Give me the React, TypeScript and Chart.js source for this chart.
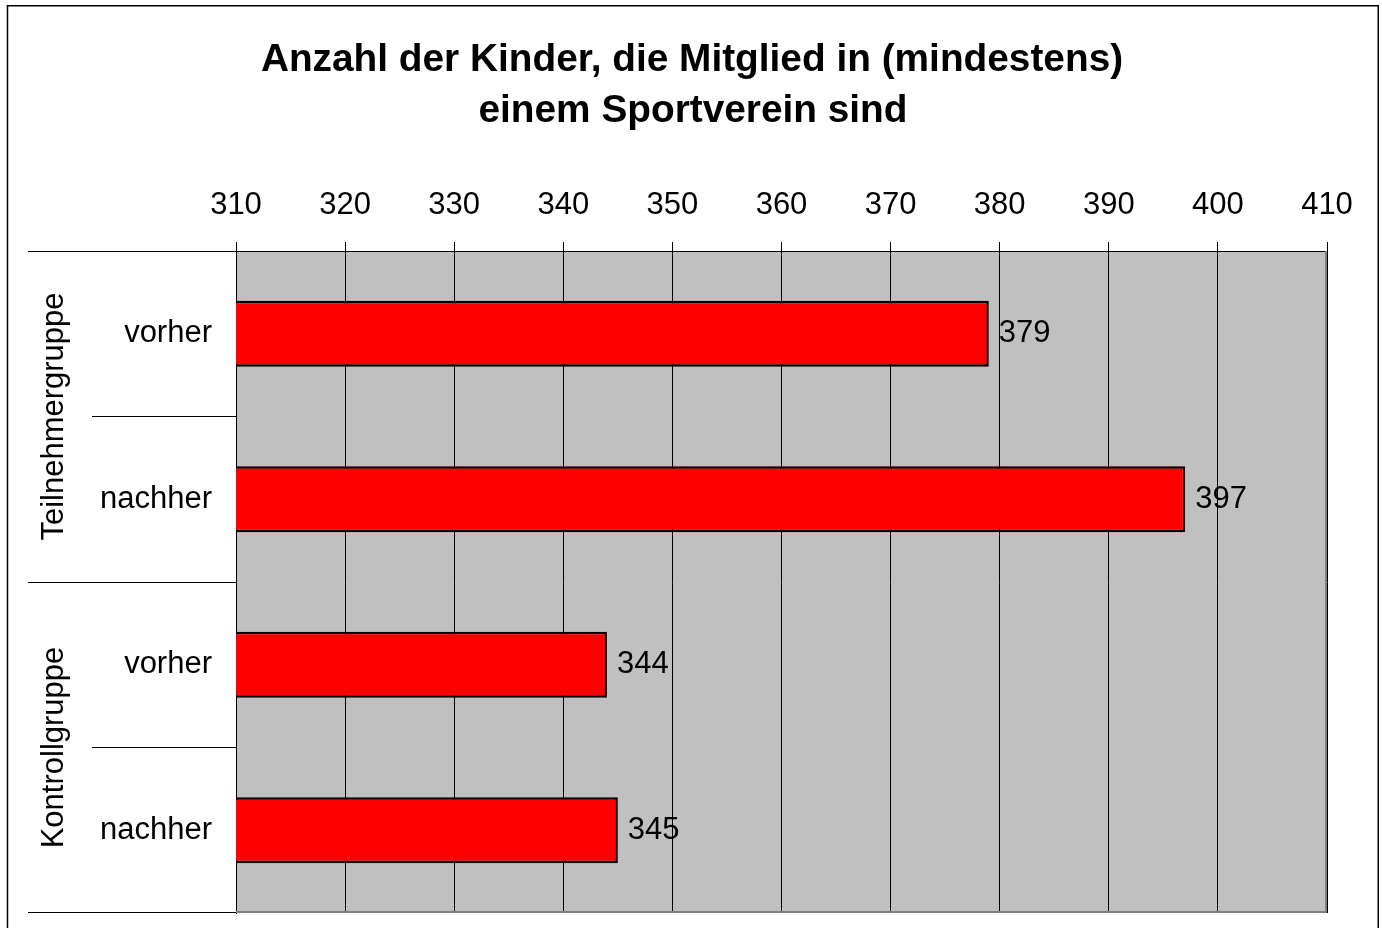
import React, { useEffect, useRef } from 'react';
import { Chart, registerables } from 'chart.js';

Chart.register(...registerables);

// ---- data ----
const titleLines = ['Anzahl der Kinder, die Mitglied in (mindestens)', 'einem Sportverein sind'];
const categories = ['vorher', 'nachher', 'vorher', 'nachher'];
const groupNames = ['Teilnehmergruppe', 'Kontrollgruppe'];
const groupSizes = [2, 2];
const values = [379, 397, 344, 345];
const axisMin = 310;
const axisMax = 410;
const axisStep = 10;

const FONT = '"Liberation Sans", Arial, Helvetica, sans-serif';

const decorPlugin = {
  id: 'decor',
  beforeDraw(chart: any) {
    const { ctx, chartArea: a, width, height } = chart;
    ctx.save();
    ctx.fillStyle = '#FFFFFF';
    ctx.fillRect(0, 0, width, height);
    ctx.fillStyle = '#C0C0C0';
    ctx.fillRect(a.left, a.top, a.right - a.left, a.bottom - a.top);
    ctx.strokeStyle = '#000000';
    ctx.lineWidth = 1.5;
    ctx.strokeRect(7.5, 5.75, 1370.75, height + 20);
    ctx.restore();
  },
  afterDatasetsDraw(chart: any) {
    const { ctx, chartArea: a } = chart;
    ctx.save();
    // grey plot-area border (right + bottom)
    ctx.strokeStyle = '#808080';
    ctx.lineWidth = 2;
    ctx.beginPath();
    ctx.moveTo(a.right - 1, a.top);
    ctx.lineTo(a.right - 1, a.bottom - 1);
    ctx.lineTo(a.left, a.bottom - 1);
    ctx.stroke();
    // value labels
    const meta = chart.getDatasetMeta(0);
    ctx.fillStyle = '#000000';
    ctx.font = `31px ${FONT}`;
    ctx.textBaseline = 'middle';
    ctx.textAlign = 'left';
    meta.data.forEach((bar: any, i: number) => {
      ctx.fillText(String(values[i]), bar.x + 10, bar.y);
    });
    ctx.restore();
  },
  afterDraw(chart: any) {
    const { ctx, chartArea: a, width } = chart;
    const yScale = chart.scales.y;
    ctx.save();
    // title
    ctx.fillStyle = '#000000';
    ctx.font = `bold 38.8px ${FONT}`;
    ctx.textAlign = 'center';
    ctx.textBaseline = 'alphabetic';
    ctx.fillText(titleLines[0], width / 2 + 1, 71);
    ctx.fillText(titleLines[1], width / 2 + 2, 122);

    // category separator lines
    const groupBounds: number[] = [0];
    groupSizes.forEach((s) => groupBounds.push(groupBounds[groupBounds.length - 1] + s));
    ctx.strokeStyle = '#000000';
    ctx.lineWidth = 1;
    for (let k = 0; k <= categories.length; k++) {
      const y = Math.min(Math.floor(yScale.getPixelForValue(k - 0.5)) + 0.5, a.bottom - 0.5);
      const isGroup = groupBounds.includes(k);
      const x0 = isGroup ? 28 : 92;
      ctx.beginPath();
      ctx.moveTo(x0, y);
      ctx.lineTo(a.left, y);
      ctx.stroke();
    }

    // group labels (rotated)
    ctx.font = `31px ${FONT}`;
    ctx.textAlign = 'center';
    ctx.textBaseline = 'middle';
    for (let g = 0; g < groupNames.length; g++) {
      const y0 = yScale.getPixelForValue(groupBounds[g] - 0.5);
      const y1 = yScale.getPixelForValue(groupBounds[g + 1] - 0.5);
      const cy = (y0 + y1) / 2;
      ctx.save();
      ctx.translate(54, cy);
      ctx.rotate(-Math.PI / 2);
      ctx.fillText(groupNames[g], 0, 0);
      ctx.restore();
    }
    ctx.restore();
  },
};

export default function App() {
  const canvasRef = useRef<HTMLCanvasElement | null>(null);

  useEffect(() => {
    const canvas = canvasRef.current;
    if (!canvas) return;
    const chart = new Chart(canvas, {
      type: 'bar',
      data: {
        labels: categories,
        datasets: [
          {
            data: values,
            backgroundColor: '#FF0000',
            borderColor: '#000000',
            borderWidth: 2.5,
            barPercentage: 0.4,
            categoryPercentage: 1.0,
          },
        ],
      },
      options: {
        indexAxis: 'y',
        responsive: false,
        animation: false,
        devicePixelRatio: 1,
        layout: { padding: { left: 0, top: 0, right: 55, bottom: 15 } },
        plugins: {
          legend: { display: false },
          tooltip: { enabled: false },
          title: { display: false },
        },
        scales: {
          x: {
            type: 'linear',
            position: 'top',
            min: axisMin,
            max: axisMax,
            ticks: {
              stepSize: axisStep,
              autoSkip: false,
              maxRotation: 0,
              padding: 18,
              color: '#000000',
              font: { family: FONT, size: 31 },
            },
            grid: {
              color: '#000000',
              lineWidth: 1,
              tickLength: 9,
              tickColor: '#000000',
              drawOnChartArea: true,
            },
            border: { display: true, color: '#000000', width: 1 },
            afterFit: (scale: any) => {
              scale.height = 251;
              scale.paddingLeft = 0;
              scale.paddingRight = 0;
            },
          },
          y: {
            type: 'category',
            position: 'left',
            ticks: {
              padding: 24,
              autoSkip: false,
              color: '#000000',
              font: { family: FONT, size: 31 },
            },
            grid: { display: false, drawTicks: false },
            border: { display: true, color: '#000000', width: 1 },
            afterFit: (scale: any) => {
              scale.width = 236;
              scale.paddingTop = 0;
              scale.paddingBottom = 0;
            },
          },
        },
      },
      plugins: [decorPlugin],
    } as any);
    return () => chart.destroy();
  }, []);

  return (
    <div style={{ position: 'absolute', left: 0, top: 0, width: 1382, height: 928 }}>
      <canvas ref={canvasRef} width={1382} height={928} style={{ display: 'block' }} />
    </div>
  );
}
